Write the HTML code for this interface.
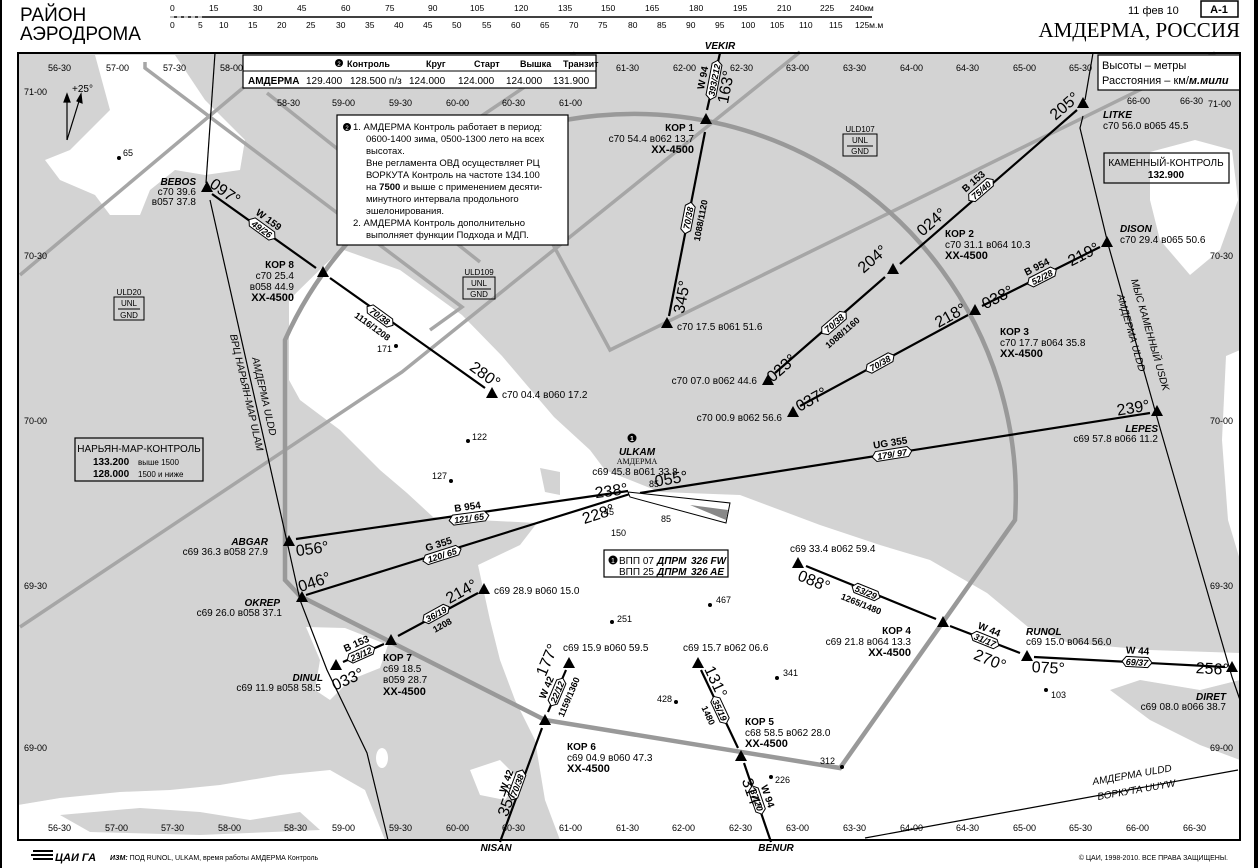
<!DOCTYPE html>
<html><head><meta charset="utf-8">
<style>
html,body{margin:0;padding:0;background:#fff;}
svg{display:block;}
text{font-family:"Liberation Sans Narrow","Liberation Sans",sans-serif;fill:#000;}
.g{font-size:10px;}
.c{font-size:10px;}
.b{font-weight:bold;}
.i{font-style:italic;font-weight:bold;}
.pl{font-size:9px;font-weight:bold;font-style:italic;text-anchor:middle;}
.rn{font-size:10px;font-weight:bold;text-anchor:middle;}
.deg{font-size:16px;text-anchor:middle;}
.s{font-family:"Liberation Sans",sans-serif;}
</style></head><body>
<svg width="1259" height="868" viewBox="0 0 1259 868" xmlns="http://www.w3.org/2000/svg">
<defs>
<path id="tri" d="M0,-7 L6,4 L-6,4 Z" fill="#000"/>
</defs>
<rect width="1259" height="868" fill="#fff"/>
<rect x="0" y="0" width="2" height="868" fill="#000"/>
<rect x="1254" y="0" width="4" height="868" fill="#000"/>

<!-- header -->
<text x="20" y="21" class="s" style="font-size:19px">РАЙОН</text>
<text x="20" y="40" class="s" style="font-size:19px">АЭРОДРОМА</text>
<g class="s" style="font-size:8.5px">
<line x1="170" y1="17" x2="872" y2="17" stroke="#000" stroke-width="1.5"/>
<line x1="170" y1="17" x2="205" y2="17" stroke="#fff" stroke-width="1" stroke-dasharray="4,3"/>
<text x="170" y="11">0</text><text x="209" y="11">15</text><text x="253" y="11">30</text><text x="297" y="11">45</text><text x="341" y="11">60</text><text x="385" y="11">75</text><text x="428" y="11">90</text><text x="470" y="11">105</text><text x="514" y="11">120</text><text x="558" y="11">135</text><text x="601" y="11">150</text><text x="645" y="11">165</text><text x="689" y="11">180</text><text x="733" y="11">195</text><text x="777" y="11">210</text><text x="820" y="11">225</text><text x="850" y="11">240км</text>
<text x="170" y="28">0</text><text x="198" y="28">5</text><text x="219" y="28">10</text><text x="248" y="28">15</text><text x="277" y="28">20</text><text x="306" y="28">25</text><text x="336" y="28">30</text><text x="365" y="28">35</text><text x="394" y="28">40</text><text x="423" y="28">45</text><text x="452" y="28">50</text><text x="482" y="28">55</text><text x="511" y="28">60</text><text x="540" y="28">65</text><text x="569" y="28">70</text><text x="598" y="28">75</text><text x="628" y="28">80</text><text x="657" y="28">85</text><text x="686" y="28">90</text><text x="715" y="28">95</text><text x="741" y="28">100</text><text x="770" y="28">105</text><text x="799" y="28">110</text><text x="829" y="28">115</text><text x="855" y="28">125м.м</text>
</g>
<text x="1128" y="14" class="s" style="font-size:11px">11 фев 10</text>
<rect x="1201" y="1" width="37" height="16" fill="none" stroke="#000" stroke-width="1.5"/>
<text x="1219" y="13" class="s b" style="font-size:11px;text-anchor:middle">A-1</text>
<text x="1240" y="37" style="font-family:'Liberation Serif',serif;font-size:21px;text-anchor:end">АМДЕРМА, РОССИЯ</text>

<!-- map background -->
<rect x="18" y="53" width="1222" height="787" fill="#d3d3d3"/>
<path fill="#fff" d="M289,300 L341,249 L400,270 L462,315 L502,356 L554,417 L590,450 L605,470 L630,480 L660,492 L740,495 L820,525 L880,545 L930,560 L987,593 L1028,627 L1069,643 L1150,650 L1240,653 L1240,680 L1200,690 L1140,680 L1110,690 L1150,720 L1200,745 L1240,760 L1240,840 L560,840 L545,800 L535,740 L515,700 L500,660 L490,620 L478,565 L520,545 L537,523 L477,520 L433,517 L407,493 L380,470 L340,430 L300,400 L289,380 Z"/>
<path fill="#d3d3d3" d="M540,468 L560,472 L560,495 L545,492 Z"/>
<path fill="#fff" d="M95,55 L175,55 L205,100 L245,140 L240,170 L205,175 L175,170 L150,190 L140,215 L110,215 L95,195 L60,180 L45,160 L70,150 L90,130 L110,110 Z"/>
<path fill="#fff" d="M1150,152 L1195,140 L1232,150 L1238,200 L1220,250 L1190,275 L1160,240 L1150,200 Z"/>
<path fill="#fff" d="M1226,356 L1240,350 L1240,560 L1228,520 L1222,440 Z"/>
<path fill="#fff" d="M306,627 L345,628 L388,645 L380,668 L350,680 L330,700 L315,690 L320,660 Z"/>
<ellipse cx="382" cy="758" rx="6" ry="10" fill="#fff"/>
<path fill="#fff" d="M18,805 L60,798 L120,792 L170,790 L220,785 L280,775 L330,770 L365,790 L385,840 L18,840 Z"/>
<path fill="#d3d3d3" d="M60,815 L140,808 L200,812 L250,820 L300,812 L320,830 L200,835 L90,832 Z"/>
<path fill="#fff" d="M470,770 L500,760 L520,780 L505,800 L480,795 Z"/>

<!-- gray airspace lines -->
<g fill="none" stroke="#a6a6a6" stroke-width="3.5">
<line x1="20" y1="275" x2="250" y2="82"/>
<polyline points="145,62 145,68 462,307 430,330"/>
<line x1="267" y1="93" x2="480" y2="262"/>
<polyline points="20,627 402,372 800,52"/>
<polyline points="575,53 483,115 610,350 1215,53"/>
</g>
<path d="M285,340 A382,382 0 0 1 1015,520 L840,768 L545,720 L300,596 L285,580 Z" fill="none" stroke="#999" stroke-width="4.5"/>

<!-- FIR boundaries -->
<g stroke="#000" stroke-width="1.2" fill="none">
<polyline points="215,53 206,183"/>
<polyline points="210,200 290,555 300,600 327,670 367,753 388,840"/>
<polyline points="1093,53 1085,100"/>
<polyline points="1083,116 1080,128 1108,244 1160,428 1232,677 1240,700"/>
<line x1="865" y1="838" x2="1238" y2="770"/>
</g>

<!-- routes -->
<g stroke="#000" stroke-width="2.2" fill="none">
<line x1="212" y1="194" x2="316" y2="268"/>
<line x1="330" y1="278" x2="485" y2="388"/>
<line x1="705" y1="132" x2="669" y2="316"/>
<line x1="707" y1="110" x2="720" y2="53"/>
<line x1="775" y1="373" x2="885" y2="277"/>
<line x1="900" y1="264" x2="1077" y2="110"/>
<line x1="800" y1="406" x2="968" y2="315"/>
<line x1="982" y1="306" x2="1100" y2="247"/>
<line x1="640" y1="493" x2="1150" y2="413"/>
<line x1="296" y1="539" x2="628" y2="491"/>
<line x1="306" y1="595" x2="630" y2="494"/>
<line x1="343" y1="662" x2="384" y2="644"/>
<line x1="398" y1="636" x2="478" y2="593"/>
<line x1="500" y1="842" x2="542" y2="728"/>
<line x1="548" y1="712" x2="566" y2="670"/>
<line x1="701" y1="670" x2="738" y2="748"/>
<line x1="744" y1="763" x2="771" y2="842"/>
<line x1="806" y1="566" x2="936" y2="619"/>
<line x1="950" y1="626" x2="1020" y2="653"/>
<line x1="1034" y1="657" x2="1225" y2="667"/>
</g>

<polygon points="628,492 730,503 726,523 630,497" fill="#fff" stroke="#000" stroke-width="1"/>
<polygon points="690,505 728,510 726,520" fill="#888"/>

<g>
<use href="#tri" x="207" y="188"/><use href="#tri" x="323" y="273"/><use href="#tri" x="492" y="394"/>
<use href="#tri" x="706" y="120"/><use href="#tri" x="667" y="324"/><use href="#tri" x="893" y="270"/>
<use href="#tri" x="768" y="381"/><use href="#tri" x="1083" y="104"/><use href="#tri" x="1107" y="243"/>
<use href="#tri" x="975" y="311"/><use href="#tri" x="793" y="413"/><use href="#tri" x="1157" y="412"/>
<use href="#tri" x="289" y="542"/><use href="#tri" x="302" y="598"/><use href="#tri" x="484" y="590"/>
<use href="#tri" x="391" y="641"/><use href="#tri" x="336" y="666"/><use href="#tri" x="569" y="664"/>
<use href="#tri" x="545" y="721"/><use href="#tri" x="698" y="664"/><use href="#tri" x="741" y="757"/>
<use href="#tri" x="798" y="564"/><use href="#tri" x="943" y="623"/><use href="#tri" x="1027" y="657"/>
<use href="#tri" x="1232" y="668"/>
</g>

<g fill="#fff" stroke="#000" stroke-width="1">
<g transform="translate(262,229) rotate(36)"><polygon points="-12,-5 12,-5 16,0 12,5 -12,5 -16,0"/><text y="3.5" class="pl" stroke="none">49/26</text><text y="-8" class="rn" stroke="none">W 159</text></g>
<g transform="translate(380,316) rotate(36)"><polygon points="-12,-5 12,-5 16,0 12,5 -12,5 -16,0"/><text y="3.5" class="pl" stroke="none">70/38</text><text y="16" class="rn" stroke="none" style="font-size:9px">1116/1208</text></g>
<g transform="translate(688,218) rotate(-79)"><polygon points="-12,-5 12,-5 16,0 12,5 -12,5 -16,0"/><text y="3.5" class="pl" stroke="none">70/38</text><text y="16" class="rn" stroke="none" style="font-size:9px">1088/1120</text></g>
<g transform="translate(714,80) rotate(-79)"><polygon points="-16,-5 16,-5 20,0 16,5 -16,5 -20,0"/><text y="3.5" class="pl" stroke="none">393/212</text><text y="-8" class="rn" stroke="none">W 94</text></g>
<g transform="translate(834,323) rotate(-41)"><polygon points="-12,-5 12,-5 16,0 12,5 -12,5 -16,0"/><text y="3.5" class="pl" stroke="none">70/38</text><text y="16" class="rn" stroke="none" style="font-size:9px">1088/1160</text></g>
<g transform="translate(981,190) rotate(-41)"><polygon points="-12,-5 12,-5 16,0 12,5 -12,5 -16,0"/><text y="3.5" class="pl" stroke="none">75/40</text><text y="-8" class="rn" stroke="none">B 153</text></g>
<g transform="translate(880,363) rotate(-29)"><polygon points="-12,-5 12,-5 16,0 12,5 -12,5 -16,0"/><text y="3.5" class="pl" stroke="none">70/38</text></g>
<g transform="translate(1042,277) rotate(-27)"><polygon points="-12,-5 12,-5 16,0 12,5 -12,5 -16,0"/><text y="3.5" class="pl" stroke="none">52/28</text><text y="-8" class="rn" stroke="none">B 954</text></g>
<g transform="translate(892,454) rotate(-9)"><polygon points="-16,-5 16,-5 20,0 16,5 -16,5 -20,0"/><text y="3.5" class="pl" stroke="none">179/ 97</text><text y="-8" class="rn" stroke="none">UG 355</text></g>
<g transform="translate(469,518) rotate(-7.6)"><polygon points="-16,-5 16,-5 20,0 16,5 -16,5 -20,0"/><text y="3.5" class="pl" stroke="none">121/ 65</text><text y="-8" class="rn" stroke="none">B 954</text></g>
<g transform="translate(442,555) rotate(-17.7)"><polygon points="-16,-5 16,-5 20,0 16,5 -16,5 -20,0"/><text y="3.5" class="pl" stroke="none">120/ 65</text><text y="-8" class="rn" stroke="none">G 355</text></g>
<g transform="translate(361,654) rotate(-24)"><polygon points="-11,-5 11,-5 15,0 11,5 -11,5 -15,0"/><text y="3.5" class="pl" stroke="none">23/12</text><text y="-8" class="rn" stroke="none">B 153</text></g>
<g transform="translate(436,614) rotate(-29)"><polygon points="-11,-5 11,-5 15,0 11,5 -11,5 -15,0"/><text y="3.5" class="pl" stroke="none">36/19</text><text y="16" class="rn" stroke="none" style="font-size:9px">1208</text></g>
<g transform="translate(517,785) rotate(-70)"><polygon points="-12,-5 12,-5 16,0 12,5 -12,5 -16,0"/><text y="3.5" class="pl" stroke="none">70/38</text><text y="-8" class="rn" stroke="none">W 42</text></g>
<g transform="translate(557,692) rotate(-67)"><polygon points="-11,-5 11,-5 15,0 11,5 -11,5 -15,0"/><text y="3.5" class="pl" stroke="none">22/12</text><text y="-8" class="rn" stroke="none">W 42</text><text y="16" class="rn" stroke="none" style="font-size:9px">1159/1360</text></g>
<g transform="translate(720,710) rotate(65)"><polygon points="-11,-5 11,-5 15,0 11,5 -11,5 -15,0"/><text y="3.5" class="pl" stroke="none">35/19</text><text y="16" class="rn" stroke="none" style="font-size:9px">1480</text></g>
<g transform="translate(757,800) rotate(71)"><polygon points="-11,-5 11,-5 15,0 11,5 -11,5 -15,0"/><text y="3.5" class="pl" stroke="none">37/20</text><text y="-8" class="rn" stroke="none">W 94</text></g>
<g transform="translate(866,592) rotate(22)"><polygon points="-11,-5 11,-5 15,0 11,5 -11,5 -15,0"/><text y="3.5" class="pl" stroke="none">53/29</text><text y="16" class="rn" stroke="none" style="font-size:9px">1265/1480</text></g>
<g transform="translate(985,640) rotate(22)"><polygon points="-11,-5 11,-5 15,0 11,5 -11,5 -15,0"/><text y="3.5" class="pl" stroke="none">31/17</text><text y="-8" class="rn" stroke="none">W 44</text></g>
<g transform="translate(1137,662) rotate(3)"><polygon points="-11,-5 11,-5 15,0 11,5 -11,5 -15,0"/><text y="3.5" class="pl" stroke="none">69/37</text><text y="-8" class="rn" stroke="none">W 44</text></g>
</g>

<g class="deg">
<text transform="translate(222,196) rotate(36)">097°</text>
<text transform="translate(482,379) rotate(36)">280°</text>
<text transform="translate(687,298) rotate(-79)">345°</text>
<text transform="translate(731,88) rotate(-79)">163°</text>
<text transform="translate(785,372) rotate(-41)">023°</text>
<text transform="translate(876,263) rotate(-41)">204°</text>
<text transform="translate(935,226) rotate(-41)">024°</text>
<text transform="translate(1068,110) rotate(-41)">205°</text>
<text transform="translate(814,404) rotate(-29)">037°</text>
<text transform="translate(953,320) rotate(-29)">218°</text>
<text transform="translate(1000,302) rotate(-27)">038°</text>
<text transform="translate(1086,259) rotate(-27)">219°</text>
<text transform="translate(1134,413) rotate(-9)">239°</text>
<text transform="translate(672,484) rotate(-9)">055°</text>
<text transform="translate(612,496) rotate(-8)">238°</text>
<text transform="translate(313,554) rotate(-8)">056°</text>
<text transform="translate(316,587) rotate(-18)">046°</text>
<text transform="translate(600,519) rotate(-18)">228°</text>
<text transform="translate(350,684) rotate(-24)">033°</text>
<text transform="translate(464,596) rotate(-29)">214°</text>
<text transform="translate(513,802) rotate(-70)">357°</text>
<text transform="translate(552,662) rotate(-67)">177°</text>
<text transform="translate(711,684) rotate(65)">131°</text>
<text transform="translate(747,796) rotate(71)">314°</text>
<text transform="translate(812,586) rotate(22)">088°</text>
<text transform="translate(988,665) rotate(22)">270°</text>
<text transform="translate(1048,673) rotate(3)">075°</text>
<text transform="translate(1212,674) rotate(3)">256°</text>
</g>

<g class="c">
<text x="196" y="185" class="i" style="text-anchor:end">BEBOS</text>
<text x="196" y="195" style="text-anchor:end">с70 39.6</text>
<text x="196" y="205" style="text-anchor:end">в057 37.8</text>
<text x="294" y="268" class="b" style="text-anchor:end">КОР 8</text>
<text x="294" y="279" style="text-anchor:end">с70 25.4</text>
<text x="294" y="290" style="text-anchor:end">в058 44.9</text>
<text x="294" y="301" class="b" style="text-anchor:end;font-size:11px">XX-4500</text>
<text x="502" y="398">с70 04.4 в060 17.2</text>
<text x="694" y="131" class="b" style="text-anchor:end">КОР 1</text>
<text x="694" y="142" style="text-anchor:end">с70 54.4 в062 13.7</text>
<text x="694" y="153" class="b" style="text-anchor:end;font-size:11px">XX-4500</text>
<text x="677" y="330">с70 17.5 в061 51.6</text>
<text x="945" y="237" class="b">КОР 2</text>
<text x="945" y="248">с70 31.1 в064 10.3</text>
<text x="945" y="259" class="b" style="font-size:11px">XX-4500</text>
<text x="757" y="384" style="text-anchor:end">с70 07.0 в062 44.6</text>
<text x="1103" y="118" class="i">LITKE</text>
<text x="1103" y="129">с70 56.0 в065 45.5</text>
<text x="1120" y="232" class="i">DISON</text>
<text x="1120" y="243">с70 29.4 в065 50.6</text>
<text x="1000" y="335" class="b">КОР 3</text>
<text x="1000" y="346">с70 17.7 в064 35.8</text>
<text x="1000" y="357" class="b" style="font-size:11px">XX-4500</text>
<text x="782" y="421" style="text-anchor:end">с70 00.9 в062 56.6</text>
<text x="1158" y="432" class="i" style="text-anchor:end">LEPES</text>
<text x="1158" y="442" style="text-anchor:end">с69 57.8 в066 11.2</text>
<text x="637" y="455" class="i" style="text-anchor:middle">ULKAM</text>
<text x="637" y="464" style="text-anchor:middle;font-family:'Liberation Serif',serif;font-size:8px">АМДЕРМА</text>
<text x="635" y="475" style="text-anchor:middle">с69 45.8 в061 33.8</text>
<circle cx="632" cy="438" r="4.5" fill="#000"/><text x="632" y="441" style="text-anchor:middle;font-size:7px;fill:#fff" class="b">1</text>
<text x="268" y="545" class="i" style="text-anchor:end">ABGAR</text>
<text x="268" y="555" style="text-anchor:end">с69 36.3 в058 27.9</text>
<text x="280" y="606" class="i" style="text-anchor:end">OKREP</text>
<text x="282" y="616" style="text-anchor:end">с69 26.0 в058 37.1</text>
<text x="494" y="594">с69 28.9 в060 15.0</text>
<text x="383" y="661" class="b">КОР 7</text>
<text x="383" y="672">с69 18.5</text>
<text x="383" y="683">в059 28.7</text>
<text x="383" y="695" class="b" style="font-size:11px">XX-4500</text>
<text x="323" y="681" class="i" style="text-anchor:end">DINUL</text>
<text x="321" y="691" style="text-anchor:end">с69 11.9 в058 58.5</text>
<text x="563" y="651">с69 15.9 в060 59.5</text>
<text x="567" y="750" class="b">КОР 6</text>
<text x="567" y="761">с69 04.9 в060 47.3</text>
<text x="567" y="772" class="b" style="font-size:11px">XX-4500</text>
<text x="683" y="651">с69 15.7 в062 06.6</text>
<text x="745" y="725" class="b">КОР 5</text>
<text x="745" y="736">с68 58.5 в062 28.0</text>
<text x="745" y="747" class="b" style="font-size:11px">XX-4500</text>
<text x="790" y="552">с69 33.4 в062 59.4</text>
<text x="911" y="634" class="b" style="text-anchor:end">КОР 4</text>
<text x="911" y="645" style="text-anchor:end">с69 21.8 в064 13.3</text>
<text x="911" y="656" class="b" style="text-anchor:end;font-size:11px">XX-4500</text>
<text x="1026" y="635" class="i">RUNOL</text>
<text x="1026" y="645">с69 15.0 в064 56.0</text>
<text x="1226" y="700" class="i" style="text-anchor:end">DIRET</text>
<text x="1226" y="710" style="text-anchor:end">с69 08.0 в066 38.7</text>
<text x="720" y="49" class="i" style="text-anchor:middle">VEKIR</text>
<text x="496" y="851" class="i" style="text-anchor:middle">NISAN</text>
<text x="776" y="851" class="i" style="text-anchor:middle">BENUR</text>
</g>

<g class="c" style="font-size:9px">
<circle cx="119" cy="158" r="2"/><text x="123" y="156">65</text>
<circle cx="396" cy="346" r="2"/><text x="377" y="352">171</text>
<circle cx="468" cy="441" r="2"/><text x="472" y="440">122</text>
<circle cx="451" cy="481" r="2"/><text x="432" y="479">127</text>
<circle cx="612" cy="622" r="2"/><text x="617" y="622">251</text>
<circle cx="710" cy="605" r="2"/><text x="716" y="603">467</text>
<circle cx="777" cy="678" r="2"/><text x="783" y="676">341</text>
<circle cx="676" cy="702" r="2"/><text x="657" y="702">428</text>
<circle cx="842" cy="767" r="2"/><text x="820" y="764">312</text>
<circle cx="771" cy="777" r="2"/><text x="775" y="783">226</text>
<circle cx="1046" cy="690" r="2"/><text x="1051" y="698">103</text>
<text x="604" y="515">45</text><text x="661" y="522">85</text><text x="611" y="536">150</text><text x="649" y="487">85</text>
</g>

<g class="c i" style="font-size:10px;font-weight:normal">
<text transform="translate(252,358) rotate(77)">АМДЕРМА ULDD</text>
<text transform="translate(230,335) rotate(77)">ВРЦ НАРЬЯН-МАР ULAM</text>
<text transform="translate(1131,280) rotate(74)">МЫС КАМЕННЫЙ USDK</text>
<text transform="translate(1117,295) rotate(74)">АМДЕРМА ULDD</text>
<text transform="translate(1093,785) rotate(-10)">АМДЕРМА ULDD</text>
<text transform="translate(1098,800) rotate(-10)">ВОРКУТА UUYW</text>
</g>

<g class="g" style="font-size:9px">
<text x="48" y="71">56-30</text><text x="106" y="71">57-00</text><text x="163" y="71">57-30</text><text x="220" y="71">58-00</text>
<text x="616" y="71">61-30</text><text x="673" y="71">62-00</text><text x="730" y="71">62-30</text><text x="786" y="71">63-00</text><text x="843" y="71">63-30</text><text x="900" y="71">64-00</text><text x="956" y="71">64-30</text><text x="1013" y="71">65-00</text><text x="1069" y="71">65-30</text>
<text x="277" y="106">58-30</text><text x="332" y="106">59-00</text><text x="389" y="106">59-30</text><text x="446" y="106">60-00</text><text x="502" y="106">60-30</text><text x="559" y="106">61-00</text>
<text x="1127" y="104">66-00</text><text x="1180" y="104">66-30</text>
<text x="24" y="95">71-00</text><text x="24" y="259">70-30</text><text x="24" y="424">70-00</text><text x="24" y="589">69-30</text><text x="24" y="751">69-00</text>
<text x="1208" y="107">71-00</text><text x="1210" y="259">70-30</text><text x="1210" y="424">70-00</text><text x="1210" y="589">69-30</text><text x="1210" y="751">69-00</text>
<text x="48" y="831">56-30</text><text x="105" y="831">57-00</text><text x="161" y="831">57-30</text><text x="218" y="831">58-00</text><text x="284" y="831">58-30</text><text x="332" y="831">59-00</text><text x="389" y="831">59-30</text><text x="446" y="831">60-00</text><text x="502" y="831">60-30</text><text x="559" y="831">61-00</text><text x="616" y="831">61-30</text><text x="672" y="831">62-00</text><text x="729" y="831">62-30</text><text x="786" y="831">63-00</text><text x="843" y="831">63-30</text><text x="900" y="831">64-00</text><text x="956" y="831">64-30</text><text x="1013" y="831">65-00</text><text x="1069" y="831">65-30</text><text x="1126" y="831">66-00</text><text x="1183" y="831">66-30</text>
</g>

<g stroke="#000" stroke-width="1.2">
<line x1="67" y1="140" x2="67" y2="98"/><polygon points="67,94 64,102 70,102" fill="#000"/>
<line x1="67" y1="140" x2="80" y2="98"/><polygon points="81,94 77,101 82,103" fill="#000"/>
</g>
<text x="72" y="92" class="c">+25°</text>

<g fill="#fff" stroke="#000" stroke-width="1.2">
<rect x="243" y="55" width="353" height="33"/>
<rect x="337" y="115" width="231" height="130"/>
<rect x="1098" y="55" width="142" height="35"/>
<rect x="1104" y="153" width="125" height="30" fill="none"/>
<rect x="75" y="438" width="128" height="43" fill="none"/>
<rect x="604" y="550" width="124" height="27"/>
</g>
<line x1="243" y1="71" x2="596" y2="71" stroke="#000"/>
<g class="s" style="font-size:9px">
<circle cx="339" cy="63" r="4" fill="#000"/><text x="339" y="66" style="font-size:6px;fill:#fff;text-anchor:middle">2</text>
<text x="347" y="67" class="b">Контроль</text><text x="426" y="67" class="b">Круг</text><text x="474" y="67" class="b">Старт</text><text x="520" y="67" class="b">Вышка</text><text x="563" y="67" class="b">Транзит</text>
<text x="248" y="84" class="b" style="font-size:10px">АМДЕРМА</text>
<text x="306" y="84" style="font-size:10px">129.400</text><text x="350" y="84" style="font-size:10px">128.500 п/з</text><text x="409" y="84" style="font-size:10px">124.000</text><text x="458" y="84" style="font-size:10px">124.000</text><text x="506" y="84" style="font-size:10px">124.000</text><text x="553" y="84" style="font-size:10px">131.900</text>
</g>
<g class="s" style="font-size:9.5px">
<circle cx="347" cy="127" r="4" fill="#000"/><text x="347" y="130" style="font-size:6px;fill:#fff;text-anchor:middle">2</text>
<text x="353" y="130">1. АМДЕРМА Контроль работает в период:</text>
<text x="366" y="142">0600-1400 зима, 0500-1300 лето на всех</text>
<text x="366" y="154">высотах.</text>
<text x="366" y="166">Вне регламента ОВД осуществляет РЦ</text>
<text x="366" y="178">ВОРКУТА Контроль на частоте 134.100</text>
<text x="366" y="190">на <tspan font-weight="bold">7500</tspan> и выше с применением десяти-</text>
<text x="366" y="202">минутного интервала продольного</text>
<text x="366" y="214">эшелонирования.</text>
<text x="353" y="226">2. АМДЕРМА Контроль дополнительно</text>
<text x="366" y="238">выполняет функции Подхода и МДП.</text>
<text x="1102" y="69" style="font-size:11px">Высоты – метры</text>
<text x="1102" y="84" style="font-size:11px">Расстояния – км/<tspan font-style="italic" font-weight="bold">м.мили</tspan></text>
<text x="1166" y="166" style="text-anchor:middle;font-size:10px">КАМЕННЫЙ-КОНТРОЛЬ</text>
<text x="1166" y="178" class="b" style="text-anchor:middle;font-size:10px">132.900</text>
<text x="139" y="452" style="text-anchor:middle;font-size:10px">НАРЬЯН-МАР-КОНТРОЛЬ</text>
<text x="93" y="465" class="b" style="font-size:10px">133.200</text><text x="138" y="465" style="font-size:8px">выше 1500</text>
<text x="93" y="477" class="b" style="font-size:10px">128.000</text><text x="138" y="477" style="font-size:8px">1500 и ниже</text>
<circle cx="613" cy="560" r="4.5" fill="#000"/><text x="613" y="563" style="font-size:7px;fill:#fff;text-anchor:middle">1</text>
<text x="619" y="564" style="font-size:10px">ВПП 07</text><text x="657" y="564" class="i" style="font-size:10px">ДПРМ</text><text x="691" y="564" class="i" style="font-size:10px">326 FW</text>
<text x="619" y="575" style="font-size:10px">ВПП 25</text><text x="657" y="575" class="i" style="font-size:10px">ДПРМ</text><text x="691" y="575" class="i" style="font-size:10px">326 AE</text>
</g>
<g class="s" style="font-size:8px;text-anchor:middle">
<text x="129" y="295">ULD20</text><rect x="114" y="297" width="30" height="23" fill="none" stroke="#000"/><text x="129" y="306">UNL</text><line x1="118" y1="309" x2="140" y2="309" stroke="#000"/><text x="129" y="318">GND</text>
<text x="479" y="275">ULD109</text><rect x="463" y="277" width="32" height="22" fill="none" stroke="#000"/><text x="479" y="286">UNL</text><line x1="467" y1="289" x2="491" y2="289" stroke="#000"/><text x="479" y="297">GND</text>
<text x="860" y="132">ULD107</text><rect x="843" y="134" width="34" height="22" fill="none" stroke="#000"/><text x="860" y="143">UNL</text><line x1="847" y1="146" x2="873" y2="146" stroke="#000"/><text x="860" y="154">GND</text>
</g>

<rect x="18" y="53" width="1222" height="787" fill="none" stroke="#000" stroke-width="2"/>

<g class="s">
<path d="M33,851 h20 M31,855 h22 M33,859 h20" stroke="#000" stroke-width="2"/>
<text x="55" y="861" class="i" style="font-size:11px">ЦАИ ГА</text>
<text x="110" y="860" style="font-size:7px"><tspan font-weight="bold" font-style="italic">ИЗМ:</tspan> ПОД RUNOL, ULKAM, время работы АМДЕРМА Контроль</text>
<text x="1228" y="860" style="font-size:7px;text-anchor:end">© ЦАИ, 1998-2010. ВСЕ ПРАВА ЗАЩИЩЕНЫ.</text>
</g>
</svg>
</body></html>
